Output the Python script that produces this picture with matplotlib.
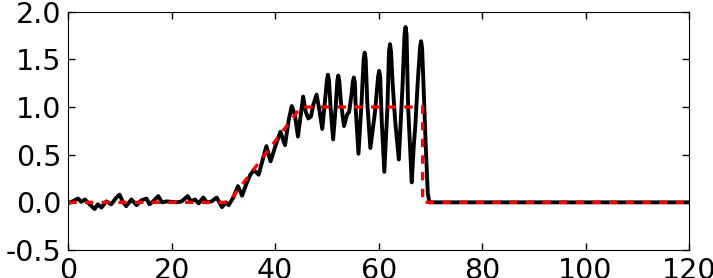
import matplotlib
matplotlib.use("Agg")
from matplotlib import pyplot as plt

sig_x = [0.0, 0.3, 0.8, 1.2, 1.9, 2.5, 3.2, 4.1, 5.1, 5.7, 6.4, 7.35, 8.3, 9.3, 9.9,
         10.6, 11.2, 12.2, 13.2, 14.1, 15.1, 15.7, 16.4, 17.4, 18.1, 19.0, 20.0,
         21.0, 21.9, 23.1, 23.7, 24.5, 25.2, 26.1, 26.8, 27.7, 28.7, 29.7, 30.5,
         31.0, 31.9, 32.8, 33.6, 34.4, 35.2, 35.9, 36.8, 37.5, 38.3, 39.1, 40.1,
         41.0, 41.9, 42.6, 43.2, 43.8, 44.4, 44.9, 45.4, 45.9, 46.4, 46.9, 47.4,
         48.0, 48.6, 49.1, 49.6, 50.0, 50.2, 50.4, 50.7, 51.2, 51.7, 52.0, 52.2,
         52.4, 52.7, 53.3, 53.9, 54.3, 54.8, 55.0, 55.2, 55.4, 55.6, 56.1, 56.7,
         57.1, 57.3, 57.5, 57.8, 58.4, 59.3, 59.9, 60.1, 60.3, 60.6, 61.1, 61.7,
         62.0, 62.2, 62.4, 62.7, 63.2, 63.9, 64.6, 65.0, 65.2, 65.4, 65.7, 66.4,
         66.8, 67.1, 67.6, 68.0, 68.2, 68.4, 68.7, 69.1, 69.5, 69.8, 120.0]
sig_y = [0.0, -0.005, 0.01, 0.02, 0.04, 0.005, 0.03, -0.02, -0.07, -0.02, -0.055,
         0.01, -0.02, 0.05, 0.08, 0.0, -0.04, 0.03, -0.03, 0.02, 0.04, -0.02, 0.01,
         0.066, 0.0, 0.01, 0.005, 0.0, 0.01, 0.066, 0.01, 0.03, -0.01, 0.05, 0.0,
         0.01, 0.05, -0.05, 0.0, -0.03, 0.05, 0.17, 0.07, 0.19, 0.29, 0.34, 0.29,
         0.43, 0.59, 0.43, 0.60, 0.74, 0.60, 0.86, 1.01, 0.92, 0.69, 0.9, 1.11,
         0.95, 0.88, 0.9, 1.03, 1.13, 0.95, 0.77, 1.05, 1.28, 1.34, 1.28, 1.0,
         0.66, 1.0, 1.27, 1.33, 1.27, 1.05, 0.80, 0.92, 0.95, 1.15, 1.26, 1.31,
         1.26, 0.95, 0.51, 1.05, 1.50, 1.57, 1.50, 1.05, 0.57, 0.95, 1.32, 1.38,
         1.32, 0.85, 0.32, 1.0, 1.58, 1.66, 1.58, 1.25, 0.85, 0.45, 1.2, 1.76,
         1.84, 1.76, 1.0, 0.21, 0.6, 0.81, 1.3, 1.62, 1.69, 1.62, 1.2, 0.6, 0.1,
         0.0, 0.0]

# target profile (red dashed)
tgt_x = [0, 31, 45, 68.5, 68.5, 120]
tgt_y = [0, 0, 1, 1, 0, 0]

plt.rcParams["lines.scale_dashes"] = False
plt.rcParams["font.size"] = 20.5

fig = plt.figure(figsize=(7.13, 2.78), dpi=100)
ax = fig.add_axes([0.0958, 0.1007, 0.8705, 0.8572])

ax.plot(sig_x, sig_y, color="black", lw=2.8, solid_joinstyle="round")
ax.plot(tgt_x, tgt_y, color="red", lw=2.4, linestyle="--", dashes=(6, 6))

ax.set_xlim(0, 120)
ax.set_ylim(-0.5, 2.0)
ax.set_xticks([0, 20, 40, 60, 80, 100, 120])
ax.set_yticks([-0.5, 0.0, 0.5, 1.0, 1.5, 2.0])
ax.tick_params(direction="in", top=True, right=True, length=5, width=1,
               labelsize=20.5, pad=5)
ax.xaxis.set_major_formatter(plt.FormatStrFormatter("%d"))
ax.yaxis.set_major_formatter(plt.FormatStrFormatter("%.1f"))

fig.savefig("out.png", dpi=100)
